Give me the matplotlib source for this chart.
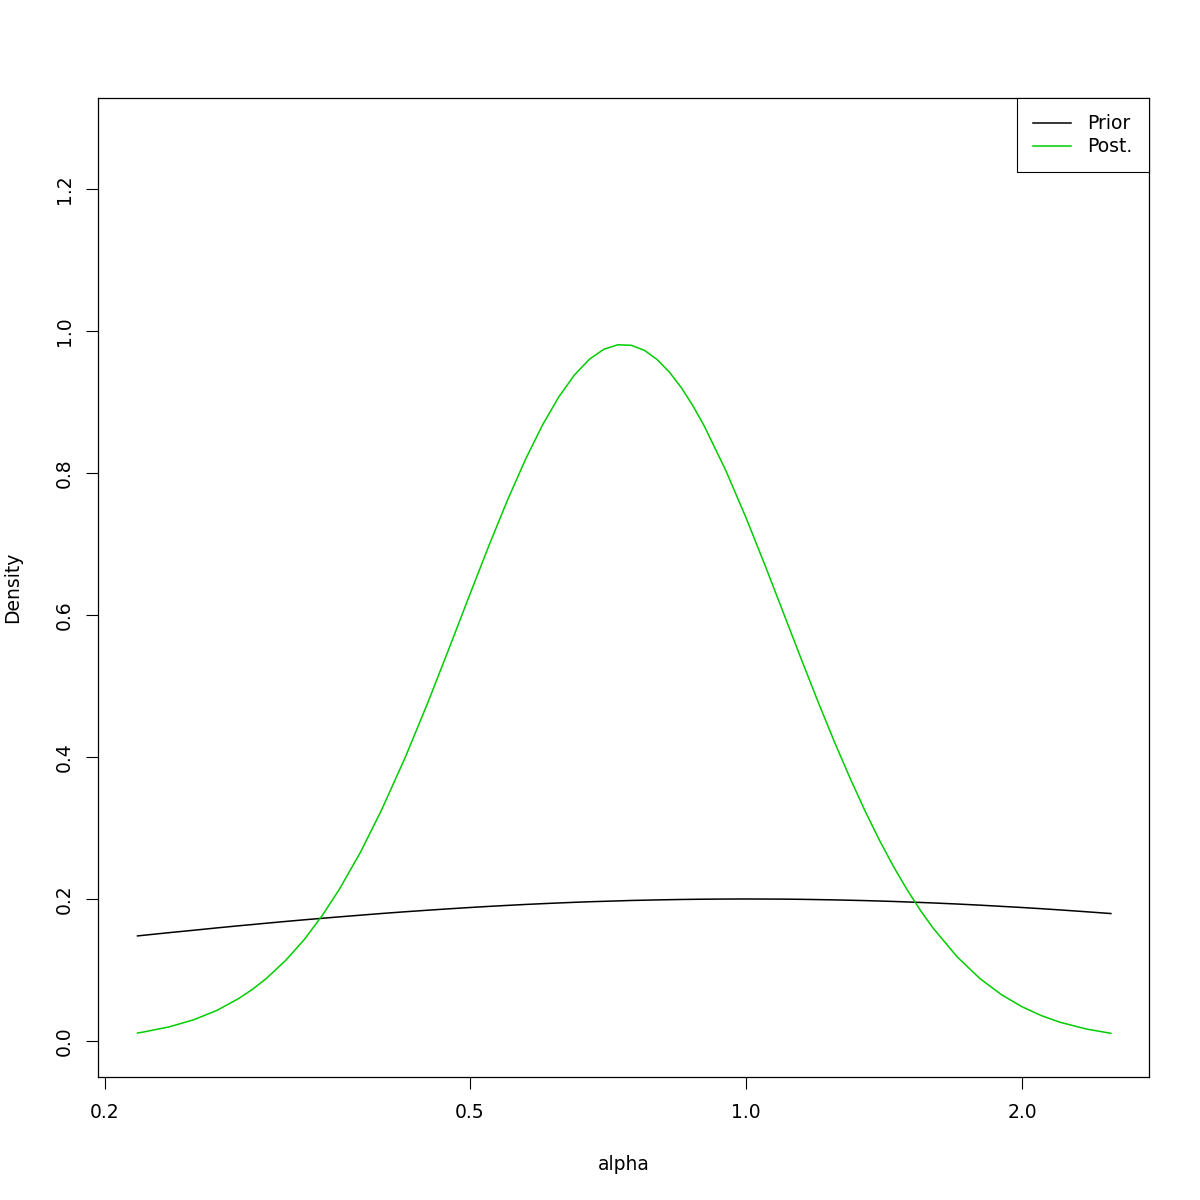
import matplotlib
matplotlib.use("Agg")
import matplotlib.pyplot as plt
from matplotlib.ticker import FixedLocator, NullLocator

# values (alpha on a log axis)
alpha = [0.217, 0.22, 0.235, 0.25, 0.265, 0.28, 0.29, 0.30, 0.315, 0.33,
         0.345, 0.36, 0.38, 0.40, 0.425, 0.45, 0.475, 0.50, 0.525, 0.55,
         0.575, 0.60, 0.625, 0.65, 0.675, 0.70, 0.725, 0.75, 0.775, 0.80,
         0.825, 0.85, 0.875, 0.90, 0.95, 1.00, 1.05, 1.10, 1.15, 1.20, 1.25,
         1.30, 1.35, 1.40, 1.45, 1.50, 1.55, 1.60, 1.70, 1.80, 1.90, 2.00,
         2.10, 2.20, 2.35, 2.50]
prior = [0.148, 0.1488, 0.1526, 0.156, 0.1593, 0.1623, 0.1641, 0.1659, 0.1684,
         0.1707, 0.1728, 0.1748, 0.1772, 0.1795, 0.1820, 0.1842, 0.1862, 0.188,
         0.1896, 0.191, 0.1923, 0.1934, 0.1944, 0.1953, 0.1961, 0.1967, 0.1973,
         0.1979, 0.1983, 0.1987, 0.1990, 0.1993, 0.1995, 0.1997, 0.1999, 0.200,
         0.1999, 0.1998, 0.1995, 0.1991, 0.1987, 0.1982, 0.1977, 0.1971, 0.1965,
         0.1958, 0.1951, 0.1944, 0.1929, 0.1913, 0.1896, 0.188, 0.1863, 0.1846,
         0.1820, 0.1795]
post = [0.0113, 0.0125, 0.0199, 0.0300, 0.0432, 0.0601, 0.0733, 0.0883, 0.1139,
        0.1432, 0.1766, 0.2131, 0.2663, 0.3239, 0.3993, 0.4771, 0.5545, 0.6292,
        0.6993, 0.7630, 0.8194, 0.8676, 0.9071, 0.9379, 0.9602, 0.9742, 0.9805,
        0.9797, 0.9726, 0.9597, 0.9420, 0.9202, 0.8948, 0.8667, 0.8042, 0.7370,
        0.6685, 0.6010, 0.5364, 0.4758, 0.4198, 0.3688, 0.3226, 0.2813, 0.2445,
        0.2122, 0.1837, 0.1589, 0.1183, 0.0877, 0.0651, 0.0482, 0.0357, 0.0264,
        0.0169, 0.0108]

x_ticks = [0.2, 0.5, 1.0, 2.0]
x_labels = ["0.2", "0.5", "1.0", "2.0"]
y_ticks = [0.0, 0.2, 0.4, 0.6, 0.8, 1.0, 1.2]
y_labels = ["0.0", "0.2", "0.4", "0.6", "0.8", "1.0", "1.2"]

fs = 13.5
fig = plt.figure(figsize=(12, 12), dpi=100)
ax = fig.add_axes([98 / 1200, 123 / 1200, 1051 / 1200, 979 / 1200])

ax.plot(alpha, prior, color="black", lw=1.1, label="Prior")
ax.plot(alpha, post, color="#00CD00", lw=1.1, label="Post.")

ax.set_xscale("log")
ax.set_xlim(0.1965, 2.751)
ax.set_ylim(-0.0507, 1.328)

ax.xaxis.set_major_locator(FixedLocator(x_ticks))
ax.xaxis.set_minor_locator(NullLocator())
ax.set_xticklabels(x_labels)
ax.set_yticks(y_ticks)
ax.set_yticklabels(y_labels, rotation=90, va="center")
ax.tick_params(axis="both", direction="out", length=8.6, width=0.8,
               labelsize=fs, colors="black")
ax.tick_params(axis="x", pad=10)
ax.tick_params(axis="y", pad=9)
for s in ax.spines.values():
    s.set_linewidth(0.9)

ax.set_xlabel("alpha", fontsize=fs, labelpad=24)
ax.set_ylabel("Density", fontsize=fs, labelpad=23)

leg = ax.legend(loc="upper right", bbox_to_anchor=(1.0, 1.0), borderaxespad=0,
                fancybox=False, edgecolor="black", framealpha=1, fontsize=fs,
                handlelength=2.0, handletextpad=0.9, borderpad=0.87,
                labelspacing=0.2)
leg.get_frame().set_linewidth(0.8)

fig.savefig("out.png", dpi=100)
